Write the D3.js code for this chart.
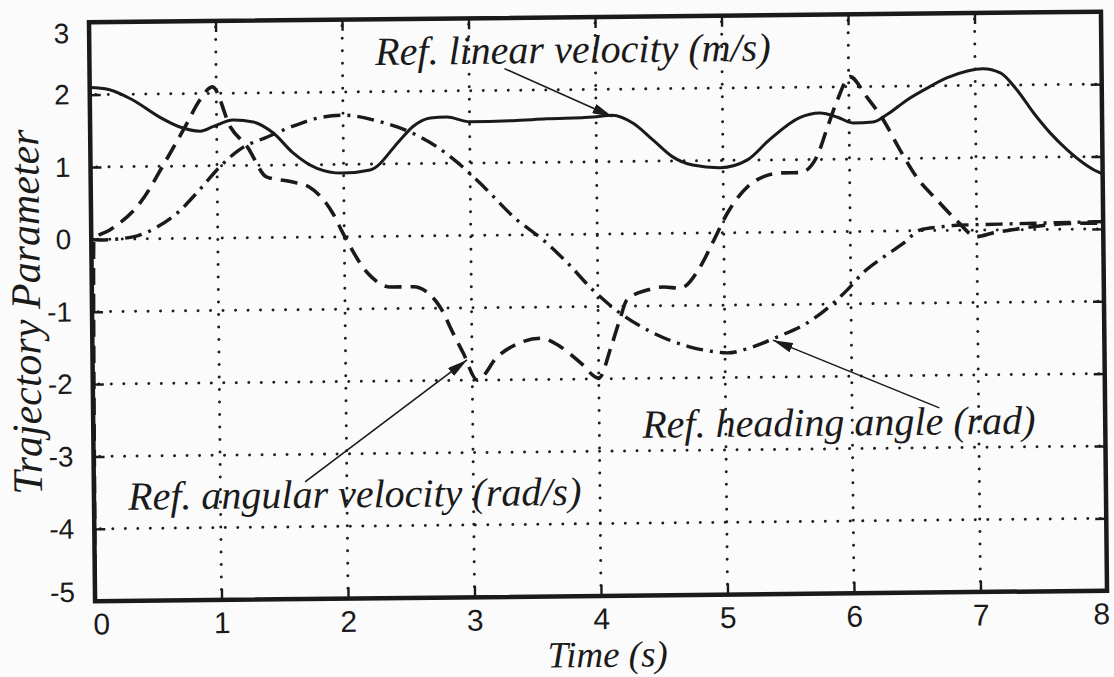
<!DOCTYPE html>
<html>
<head>
<meta charset="utf-8">
<script src="https://cdn.jsdelivr.net/npm/d3@7"></script>
<style>
  body { margin: 0; background: #fbfbfb; }
</style>
</head>
<body>
<div id="container"></div>
<script>
let w = 1114;
let h = 677;

// tick values on both axes
let xTicks = [0, 1, 2, 3, 4, 5, 6, 7, 8];
let yTicks = [-5, -4, -3, -2, -1, 0, 1, 2, 3];

// ref. linear velocity (m/s) - solid line
let tLin = [0, 0.15, 0.34, 0.55, 0.71, 0.87, 0.97, 1.13, 1.29, 1.45, 1.60, 1.79, 1.99, 2.21, 2.45, 2.55, 2.69, 2.82, 3.00, 3.34, 3.61, 3.98, 4.13, 4.29, 4.45, 4.60, 4.76, 4.98, 5.19, 5.37, 5.61, 5.77, 5.91, 6.03, 6.19, 6.30, 6.46, 6.62, 6.78, 6.94, 7.06, 7.20, 7.33, 7.46, 7.59, 7.72, 7.85, 7.96, 8.0];
let vLin = [2.10, 2.07, 1.92, 1.68, 1.54, 1.48, 1.54, 1.63, 1.60, 1.44, 1.17, 0.95, 0.88, 0.92, 1.33, 1.51, 1.63, 1.64, 1.57, 1.58, 1.60, 1.62, 1.64, 1.53, 1.29, 1.06, 0.94, 0.90, 1.00, 1.28, 1.58, 1.64, 1.58, 1.50, 1.51, 1.61, 1.81, 1.97, 2.11, 2.20, 2.23, 2.17, 1.93, 1.61, 1.33, 1.10, 0.91, 0.79, 0.76];

// ref. angular velocity (rad/s) - dashed line
let tAng = [0, 0.02, 0.15, 0.39, 0.60, 0.75, 0.87, 0.97, 1.11, 1.24, 1.39, 1.58, 1.73, 1.91, 1.99, 2.18, 2.36, 2.54, 2.75, 2.85, 2.93, 3.04, 3.20, 3.38, 3.54, 3.70, 3.86, 4.00, 4.10, 4.17, 4.23, 4.39, 4.52, 4.65, 4.81, 4.91, 5.03, 5.19, 5.32, 5.47, 5.61, 5.74, 5.83, 5.91, 6.01, 6.14, 6.27, 6.40, 6.53, 6.69, 6.84, 7.00, 7.13, 7.28, 7.55, 7.81, 8.0];
let vAng = [-5.3, 0, 0.13, 0.50, 1.09, 1.54, 1.91, 2.09, 1.53, 1.26, 0.84, 0.77, 0.69, 0.33, 0.05, -0.50, -0.70, -0.70, -0.98, -1.34, -1.62, -2.00, -1.68, -1.49, -1.43, -1.55, -1.78, -1.99, -1.56, -1.19, -0.91, -0.78, -0.74, -0.76, -0.47, -0.14, 0.27, 0.63, 0.77, 0.82, 0.82, 1.03, 1.45, 1.82, 2.14, 1.86, 1.54, 1.12, 0.74, 0.42, 0.14, -0.09, -0.04, 0.0, 0.06, 0.08, 0.08];

// ref. heading angle (rad) - dash-dot line
let tHead = [0, 0.07, 0.33, 0.52, 0.68, 0.86, 1.02, 1.18, 1.40, 1.58, 1.79, 2.00, 2.32, 2.55, 2.74, 2.94, 3.13, 3.34, 3.57, 3.76, 3.96, 4.17, 4.43, 4.72, 4.91, 5.02, 5.22, 5.41, 5.65, 5.97, 6.10, 6.26, 6.42, 6.55, 6.71, 6.84, 7.18, 7.6, 8.0];
let vHead = [0, -0.01, 0.03, 0.16, 0.35, 0.67, 0.98, 1.22, 1.39, 1.52, 1.64, 1.68, 1.57, 1.42, 1.23, 0.95, 0.63, 0.25, -0.07, -0.39, -0.77, -1.09, -1.37, -1.57, -1.64, -1.66, -1.58, -1.45, -1.26, -0.81, -0.57, -0.36, -0.17, 0.01, 0.05, 0.07, 0.08, 0.09, 0.10];

// annotations: label, label anchor (t, value), arrow start and arrow tip (t, value)
let annoText = ["Ref. linear velocity (m/s)", "Ref. angular velocity (rad/s)", "Ref. heading angle (rad)"];
let annoAt = [[2.26, 2.37], [0.27, -3.74], [4.34, -2.82]];
let arrowFrom = [[3.28, 2.30], [1.67, -3.38], [6.69, -2.45]];
let arrowTo = [[4.13, 1.62], [2.96, -1.72], [5.38, -1.49]];

let ink = "#1a1a1a";

let viz = d3.select("#container")
  .append("svg")
    .attr("width", w)
    .attr("height", h)
    .style("background-color", "#fbfbfb")
;

// the scanned figure sits a little tilted
let root = viz.append("g").attr("transform", "rotate(-0.6, 598, 306)");

let plotLeft = 92, plotRight = 1104, plotTop = 17, plotBottom = 596;

let xScale = d3.scaleLinear().domain([0, 8]).range([plotLeft, plotRight]);
let yScale = d3.scaleLinear().domain([-5, 3]).range([plotBottom, plotTop]);

let defs = viz.append("defs");

// arrow head
defs.append("marker")
    .attr("id", "head")
    .attr("viewBox", "0 0 20 10")
    .attr("refX", 20)
    .attr("refY", 5)
    .attr("markerWidth", 20)
    .attr("markerHeight", 10)
    .attr("markerUnits", "userSpaceOnUse")
    .attr("orient", "auto")
  .append("path")
    .attr("d", "M0,0 L20,5 L0,10 Z")
    .attr("fill", ink);

defs.append("clipPath").attr("id", "plotclip")
  .append("rect")
    .attr("x", plotLeft).attr("y", plotTop)
    .attr("width", plotRight - plotLeft).attr("height", plotBottom - plotTop);

// dotted grid
let grid = root.append("g").attr("class", "grid")
    .attr("stroke", "#1e1e1e")
    .attr("stroke-width", 3)
    .attr("stroke-linecap", "round")
    .attr("stroke-dasharray", "0,12.5");

grid.selectAll(".vg").data(xTicks.filter(d => d > 0 && d < 8)).enter()
  .append("line").attr("class", "vg")
    .attr("x1", d => xScale(d)).attr("x2", d => xScale(d))
    .attr("y1", plotTop + 6).attr("y2", plotBottom);

grid.selectAll(".hg").data(yTicks.filter(d => d > -5 && d < 3)).enter()
  .append("line").attr("class", "hg")
    .attr("y1", d => yScale(d)).attr("y2", d => yScale(d))
    .attr("x1", plotLeft + 6).attr("x2", plotRight);

// plain hyphen for negative numbers, like the original
let plainFormat = d => String(d);

// axes, ticks pointing inwards on all four sides
let xAxisGroup = root.append("g").attr("class", "xaxis")
    .attr("transform", "translate(0," + plotBottom + ")")
    .call(d3.axisBottom(xScale).tickValues(xTicks).tickFormat(plainFormat)
      .tickSizeInner(-11).tickSizeOuter(0).tickPadding(12));
root.append("g")
    .attr("transform", "translate(0," + plotTop + ")")
    .call(d3.axisTop(xScale).tickValues(xTicks).tickSizeInner(-11).tickSizeOuter(0).tickFormat(""));
let yAxisGroup = root.append("g").attr("class", "yaxis")
    .attr("transform", "translate(" + plotLeft + ",0)")
    .call(d3.axisLeft(yScale).tickValues(yTicks).tickFormat(plainFormat)
      .tickSizeInner(-11).tickSizeOuter(0).tickPadding(20));
root.append("g")
    .attr("transform", "translate(" + plotRight + ",0)")
    .call(d3.axisRight(yScale).tickValues(yTicks).tickSizeInner(-11).tickSizeOuter(0).tickFormat(""));

root.selectAll(".domain").remove();
root.selectAll(".tick line").attr("stroke", ink).attr("stroke-width", 2.4);
root.selectAll(".tick text")
    .attr("fill", ink)
    .attr("font-family", "'Liberation Sans', Arial, sans-serif");
xAxisGroup.selectAll(".tick text").attr("font-size", 30);
yAxisGroup.selectAll(".tick text").attr("font-size", 28);

// the end labels are nudged inwards, as in the original
xAxisGroup.selectAll(".tick text").filter(d => d === 0).attr("x", 6);
xAxisGroup.selectAll(".tick text").filter(d => d === 8).attr("x", -6);
yAxisGroup.selectAll(".tick text").filter(d => d === 3).attr("y", 11);
yAxisGroup.selectAll(".tick text").filter(d => d === -5).attr("y", -9);

// curves
let lineGen = d3.line()
    .x(d => xScale(d[0]))
    .y(d => yScale(d[1]))
    .curve(d3.curveMonotoneX);

let curves = root.append("g").attr("clip-path", "url(#plotclip)")
    .attr("fill", "none")
    .attr("stroke", ink);

curves.append("path")
    .attr("d", lineGen(d3.zip(tHead, vHead)))
    .attr("stroke-width", 3.4)
    .attr("stroke-dasharray", "17,7,3,7");

curves.append("path")
    .attr("d", lineGen(d3.zip(tAng, vAng)))
    .attr("stroke-width", 3.6)
    .attr("stroke-dasharray", "17,9");

curves.append("path")
    .attr("d", lineGen(d3.zip(tLin, vLin)))
    .attr("stroke-width", 3);

// frame
root.append("rect")
    .attr("x", plotLeft).attr("y", plotTop)
    .attr("width", plotRight - plotLeft).attr("height", plotBottom - plotTop)
    .attr("fill", "none")
    .attr("stroke", ink)
    .attr("stroke-width", 4.5);

// annotations with arrows
let annos = root.append("g").attr("class", "annos");
annos.selectAll("line").data(annoText).enter()
  .append("line")
    .attr("x1", (d, i) => xScale(arrowFrom[i][0]))
    .attr("y1", (d, i) => yScale(arrowFrom[i][1]))
    .attr("x2", (d, i) => xScale(arrowTo[i][0]))
    .attr("y2", (d, i) => yScale(arrowTo[i][1]))
    .attr("stroke", ink)
    .attr("stroke-width", 1.6)
    .attr("marker-end", "url(#head)");

annos.selectAll("text").data(annoText).enter()
  .append("text")
    .attr("x", (d, i) => xScale(annoAt[i][0]))
    .attr("y", (d, i) => yScale(annoAt[i][1]))
    .attr("fill", ink)
    .style("font-family", "'Liberation Serif', 'Times New Roman', serif")
    .style("font-style", "italic")
    .style("font-size", "40px")
    .text(d => d);

// axis titles
root.append("text")
    .attr("x", 604).attr("y", 667)
    .attr("text-anchor", "middle")
    .attr("fill", ink)
    .style("font-family", "'Liberation Serif', 'Times New Roman', serif")
    .style("font-style", "italic")
    .style("font-size", "37px")
    .text("Time (s)");

root.append("text")
    .attr("transform", "translate(40,306) rotate(-90)")
    .attr("text-anchor", "middle")
    .attr("fill", ink)
    .style("font-family", "'Liberation Serif', 'Times New Roman', serif")
    .style("font-style", "italic")
    .style("font-size", "42px")
    .text("Trajectory Parameter");
</script>
</body>
</html>
